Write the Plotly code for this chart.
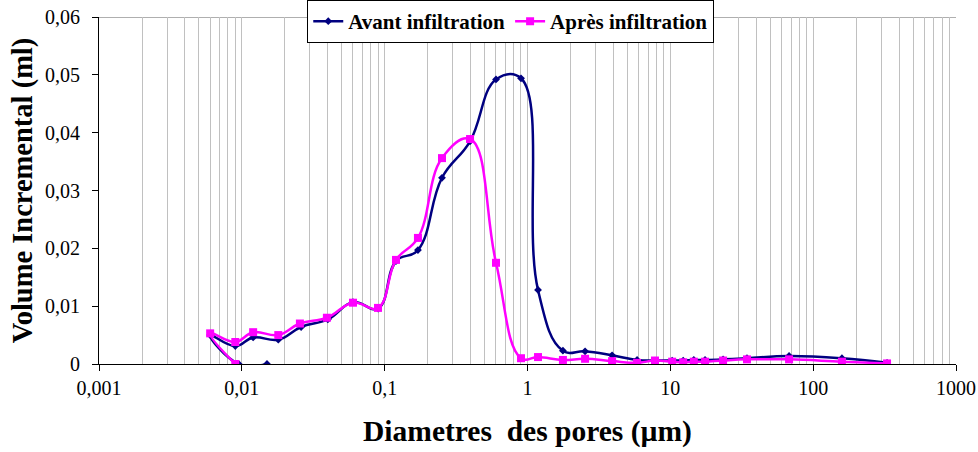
import plotly.graph_objects as go

# Data (diameter in µm, incremental volume in ml)
avant_x = [0.015, 0.0095, 0.006, 0.009, 0.012, 0.018, 0.026, 0.040, 0.060, 0.090, 0.120, 0.171,
           0.252, 0.396, 0.602, 0.901, 1.185, 1.77, 2.53, 3.91, 5.85, 7.81, 10.3, 12.3,
           14.6, 17.5, 23.4, 34.4, 67.8, 159, 329]
avant_y = [0.0, 0.0, 0.0050, 0.0031, 0.0046, 0.0042, 0.0064, 0.0077, 0.0107, 0.0096, 0.0178, 0.0197,
           0.0322, 0.0385, 0.0492, 0.0494, 0.0128, 0.0023, 0.0022, 0.0015, 0.0007, 0.0006, 0.0006, 0.0006,
           0.0007, 0.0007, 0.0008, 0.0010, 0.0014, 0.0010, 0.0002]

apres_x = [0.009, 0.006, 0.009, 0.012, 0.018, 0.0255, 0.0394, 0.060, 0.0898, 0.120, 0.171,
           0.252, 0.396, 0.602, 0.901, 1.185, 1.77, 2.53, 3.91, 5.85, 7.81, 10.3, 12.3,
           14.6, 17.5, 23.4, 34.4, 67.8, 159, 329]
apres_y = [0.0, 0.0053, 0.0038, 0.0055, 0.0050, 0.0070, 0.0080, 0.0106, 0.0097, 0.0180, 0.0218,
           0.0356, 0.0389, 0.0175, 0.0010, 0.0012, 0.0007, 0.0009, 0.0005, 0.0002, 0.0006, 0.0004, 0.0003,
           0.0004, 0.0004, 0.0006, 0.0008, 0.0008, 0.0004, 0.0001]

x_tickvals = [0.001, 0.01, 0.1, 1, 10, 100, 1000]
x_ticktext = ["0,001", "0,01", "0,1", "1", "10", "100", "1000"]
y_tickvals = [0, 0.01, 0.02, 0.03, 0.04, 0.05, 0.06]
y_ticktext = ["0", "0,01", "0,02", "0,03", "0,04", "0,05", "0,06"]

SERIF = "Liberation Serif, Times New Roman, serif"

fig = go.Figure()
fig.add_trace(go.Scatter(
    x=avant_x, y=avant_y, name="Avant infiltration", mode="lines+markers",
    line=dict(color="#000080", width=2.5, shape="spline", smoothing=1.2),
    marker=dict(symbol="diamond", size=6, color="#000080"),
))
fig.add_trace(go.Scatter(
    x=apres_x, y=apres_y, name="Après infiltration", mode="lines+markers",
    line=dict(color="#FF00FF", width=2.5, shape="spline", smoothing=1.2),
    marker=dict(symbol="square", size=8, color="#FF00FF"),
))

fig.update_layout(
    width=978, height=452,
    margin=dict(l=99, r=22, t=17, b=88, autoexpand=False),
    paper_bgcolor="white", plot_bgcolor="white",
    font=dict(family=SERIF, color="black", size=20),
    showlegend=True,
    legend=dict(
        orientation="h", x=0.243, xanchor="left",
        yref="container", y=1.0, yanchor="top",
        bgcolor="white", bordercolor="black", borderwidth=1,
        font=dict(family=SERIF, size=21, color="black", weight="bold"),
        itemwidth=30, tracegroupgap=0,
    ),
    xaxis=dict(
        type="log", range=[-3, 3], automargin=False, ticklabeloverflow="allow",
        tickvals=x_tickvals, ticktext=x_ticktext,
        showgrid=False, zeroline=False,
        showline=True, linecolor="black", linewidth=1,
        ticks="outside", ticklen=6, tickcolor="black",
        minor=dict(dtick="D1", showgrid=True, gridcolor="#c0c0c0", gridwidth=1, ticks=""),
        title=dict(text="Diametres  des pores (µm)", standoff=22,
                   font=dict(family=SERIF, size=29.5, color="black", weight="bold")),
        tickfont=dict(family=SERIF, size=20, color="black"),
    ),
    yaxis=dict(
        range=[0, 0.06], automargin=False, ticklabeloverflow="allow",
        tickvals=y_tickvals, ticktext=y_ticktext,
        showgrid=False, zeroline=False,
        showline=True, linecolor="black", linewidth=1,
        ticks="outside", ticklen=6, tickcolor="black", ticklabelstandoff=8,
        title=dict(text="Volume Incremental (ml)", standoff=4,
                   font=dict(family=SERIF, size=28.5, color="black", weight="bold")),
        tickfont=dict(family=SERIF, size=20, color="black"),
    ),
)

fig.add_shape(type="line", xref="paper", yref="y", x0=0, x1=1, y0=0.06, y1=0.06,
              line=dict(color="#606060", width=1), layer="below")

fig.write_html("out.html", config={"displayModeBar": False},
               post_script="document.body.style.margin='0';")
